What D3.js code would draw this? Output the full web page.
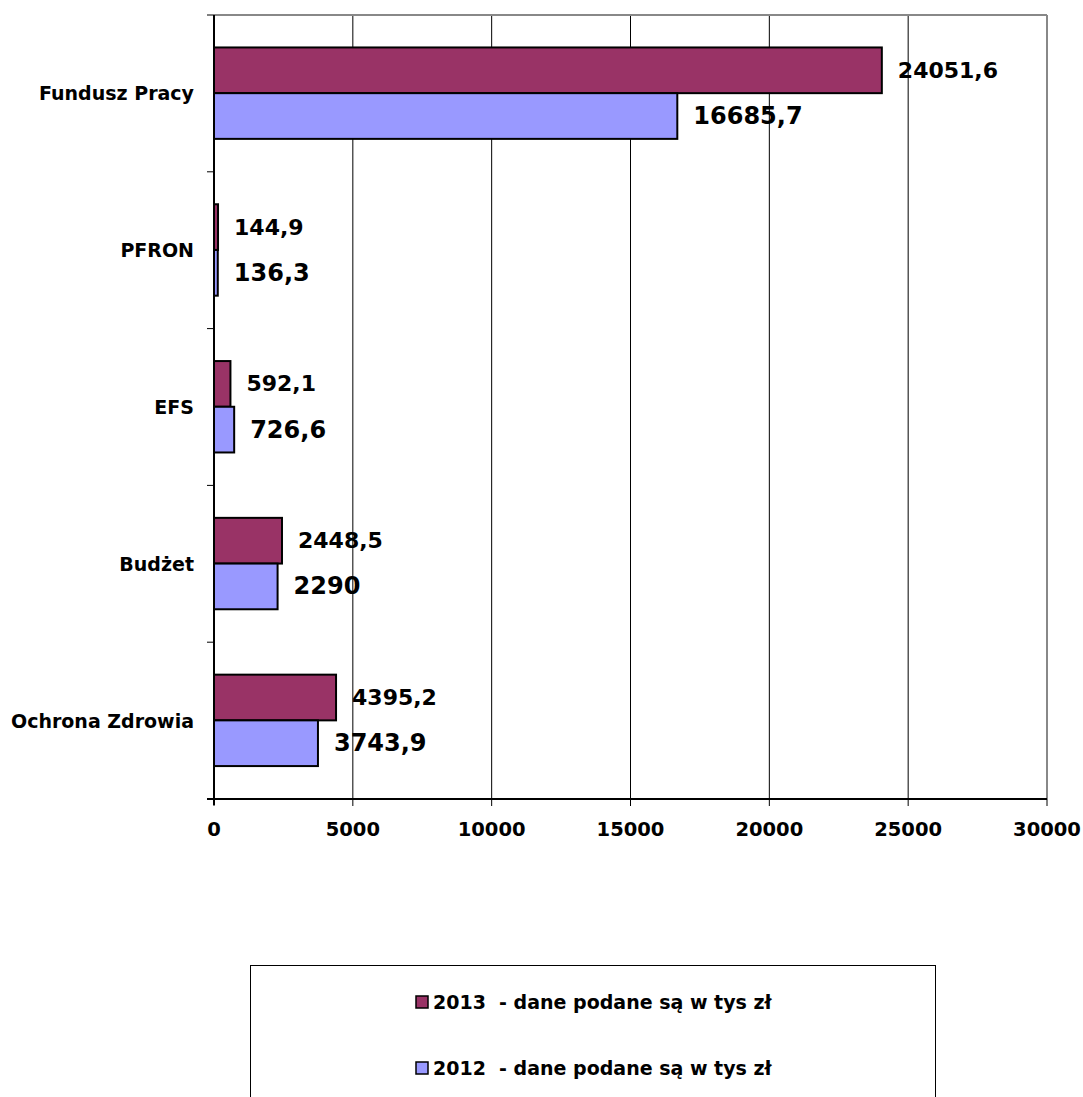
<!DOCTYPE html>
<html><head><meta charset="utf-8">
<script src="https://cdn.jsdelivr.net/npm/d3@7"></script>
<style>
body{margin:0;background:#fff;}
text{font-family:"DejaVu Sans",Verdana,sans-serif;font-weight:bold;fill:#000;white-space:pre;}
</style></head>
<body><svg id="c" width="1083" height="1097"></svg>
<script>
const categories = ["Fundusz Pracy","PFRON","EFS","Budżet","Ochrona Zdrowia"];
const seriesNames = ["2013","2012"];
const values2013 = [24051.6,144.9,592.1,2448.5,4395.2];
const values2012 = [16685.7,136.3,726.6,2290,3743.9];
const labels2013 = ["24051,6","144,9","592,1","2448,5","4395,2"];
const labels2012 = ["16685,7","136,3","726,6","2290","3743,9"];
const xTicks = [0,5000,10000,15000,20000,25000,30000];
const legendTexts = ["2013  - dane podane są w tys zł","2012  - dane podane są w tys zł"];
const colors = ["#993366","#9999FF"];

const svg = d3.select("#c");
const L=214, R=1047, T=15, B=799;
const x = d3.scaleLinear().domain([0,30000]).range([L,R]);
const y = d3.scaleBand().domain(categories).range([T,B]).padding(0);
const bw = y.bandwidth();
const sub = d3.scaleBand().domain(seriesNames).range([bw*0.207, bw*0.79]).padding(0);

// gridlines
svg.append("g").selectAll("line").data(xTicks.slice(1,-1)).join("line")
  .attr("x1",d=>x(d)).attr("x2",d=>x(d)).attr("y1",T).attr("y2",B)
  .attr("stroke","#000").attr("stroke-width",1);
// plot border top/right gray
svg.append("line").attr("x1",L).attr("x2",R).attr("y1",T).attr("y2",T).attr("stroke","#888").attr("stroke-width",2);
svg.append("line").attr("x1",R).attr("x2",R).attr("y1",T).attr("y2",B).attr("stroke","#888").attr("stroke-width",2);

// bars
const data = categories.map((c,i)=>({c, vals:[values2013[i],values2012[i]], labs:[labels2013[i],labels2012[i]]}));
const g = svg.append("g");
data.forEach(d=>{
  seriesNames.forEach((s,j)=>{
    const y0 = y(d.c)+sub(s);
    g.append("rect").attr("x",x(0)).attr("y",y0).attr("width",x(d.vals[j])-x(0)).attr("height",sub.bandwidth())
      .attr("fill",colors[j]).attr("stroke","#000").attr("stroke-width",2);
  });
});
data.forEach(d=>{
  seriesNames.forEach((s,j)=>{
    const y0 = y(d.c)+sub(s);
    svg.append("text").attr("x",x(d.vals[j])+16).attr("y",y0+sub.bandwidth()/2)
      .attr("dominant-baseline","central").style("font-size", j===0?"22px":"24px").text(d.labs[j]);
  });
});

// y axis
const yAxis = svg.append("g");
yAxis.append("line").attr("x1",L).attr("x2",L).attr("y1",T).attr("y2",B+6).attr("stroke","#000").attr("stroke-width",2);
const bounds = categories.map(c=>y(c)).concat([B]);
yAxis.selectAll("line.t").data(bounds).join("line").attr("class","t")
  .attr("x1",L-7).attr("x2",L).attr("y1",d=>d).attr("y2",d=>d).attr("stroke","#000").attr("stroke-width",1);
yAxis.selectAll("text").data(categories).join("text")
  .attr("x",194).attr("y",d=>y(d)+bw/2).attr("text-anchor","end").attr("dominant-baseline","central")
  .style("font-size","19px").text(d=>d);

// x axis
const xAxis = svg.append("g");
xAxis.append("line").attr("x1",L-7).attr("x2",R).attr("y1",B).attr("y2",B).attr("stroke","#000").attr("stroke-width",2);
xAxis.selectAll("line.t").data(xTicks).join("line").attr("class","t")
  .attr("x1",d=>x(d)).attr("x2",d=>x(d)).attr("y1",B).attr("y2",B+7).attr("stroke","#000").attr("stroke-width",1);
xAxis.selectAll("text").data(xTicks).join("text")
  .attr("x",d=>x(d)).attr("y",836).attr("text-anchor","middle").style("font-size","19.5px").text(d=>d);

// legend
const lg = svg.append("g");
lg.append("rect").attr("x",250.5).attr("y",965.5).attr("width",685).attr("height",140).attr("fill","#fff").attr("stroke","#000").attr("stroke-width",1);
legendTexts.forEach((t,i)=>{
  const cy = 1002 + i*66;
  lg.append("rect").attr("x",416).attr("y",cy-6).attr("width",12).attr("height",12).attr("fill",colors[i]).attr("stroke","#000").attr("stroke-width",1.5);
  lg.append("text").attr("x",433).attr("y",cy).attr("dominant-baseline","central").style("font-size","19px").text(t);
});
</script></body></html>
